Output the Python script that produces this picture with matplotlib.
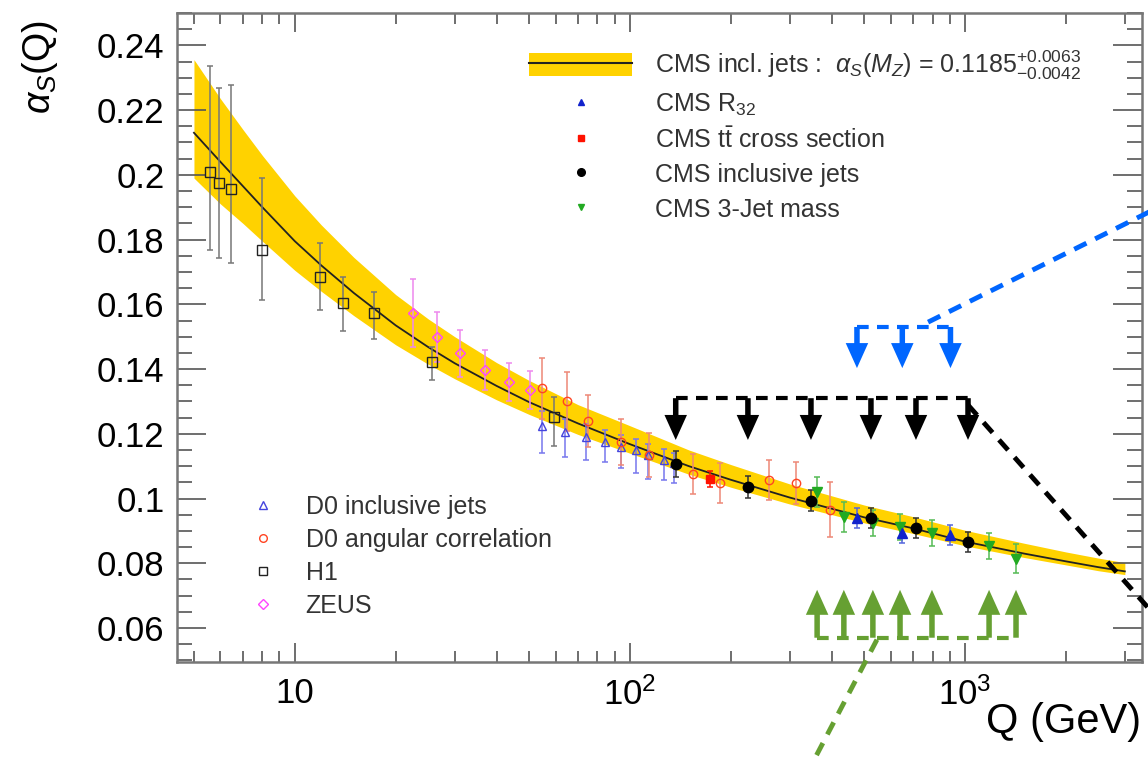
import numpy as np
import matplotlib
matplotlib.use('Agg')
import matplotlib.pyplot as plt
from matplotlib.patches import Patch
from matplotlib.lines import Line2D
from matplotlib.legend_handler import HandlerTuple
from matplotlib.ticker import LogLocator, NullFormatter, MultipleLocator

plt.rcParams['font.family'] = ['Liberation Sans', 'DejaVu Sans']
plt.rcParams['mathtext.fontset'] = 'custom'
plt.rcParams['mathtext.rm'] = 'Liberation Sans'
plt.rcParams['mathtext.it'] = 'Liberation Sans:italic'
plt.rcParams['mathtext.bf'] = 'Liberation Sans:bold'

# theory band
theory_q = [5, 6, 7, 8, 10, 12, 15, 20, 25, 30, 40, 50, 70, 100, 150, 200, 300, 500, 700, 1000, 1500, 2000, 2500, 3000]
theory_central = [0.2130, 0.2040, 0.1965, 0.1900, 0.1795, 0.1720, 0.1635, 0.1535, 0.1468, 0.1418, 0.1348, 0.1298,
                  0.1232, 0.1168, 0.1100, 0.1058, 0.1003, 0.0942, 0.0908, 0.0867, 0.0830, 0.0806, 0.0788, 0.0775]
band_hi = [0.2356, 0.2235, 0.2140, 0.2060, 0.1935, 0.1845, 0.1745, 0.1630, 0.1555, 0.1500, 0.1420, 0.1365,
           0.1290, 0.1225, 0.1150, 0.1105, 0.1045, 0.0980, 0.0944, 0.0902, 0.0862, 0.0835, 0.0816, 0.0802]
band_lo = [0.1990, 0.1910, 0.1850, 0.1795, 0.1705, 0.1640, 0.1565, 0.1475, 0.1415, 0.1370, 0.1305, 0.1260,
           0.1198, 0.1140, 0.1075, 0.1035, 0.0983, 0.0925, 0.0892, 0.0854, 0.0818, 0.0795, 0.0777, 0.0765]

# H1
h1_q = [5.57, 5.93, 6.44, 7.97, 11.9, 13.9, 17.2, 25.6, 59.3]
h1_a = [0.2008, 0.1974, 0.1956, 0.1767, 0.1684, 0.1604, 0.1573, 0.1422, 0.1252]
h1_up = [0.0329, 0.0295, 0.0321, 0.0223, 0.0105, 0.0080, 0.0065, 0.0046, 0.0062]
h1_dn = [0.0241, 0.0231, 0.0229, 0.0154, 0.0102, 0.0087, 0.0080, 0.0056, 0.0090]

# ZEUS
zeus_q = [22.5, 26.5, 31.1, 36.9, 43.5, 50.3]
zeus_a = [0.1573, 0.1499, 0.1449, 0.1397, 0.1360, 0.1335]
zeus_err = [0.0105, 0.0077, 0.0072, 0.0062, 0.0059, 0.0059]

# D0 inclusive jets
d0inc_q = [54.6, 64, 74, 84, 94, 104, 113, 126, 135]
d0inc_a = [0.1225, 0.1205, 0.1190, 0.1175, 0.1160, 0.1150, 0.1135, 0.1120, 0.1110]
d0inc_up = [0.0045, 0.0042, 0.0040, 0.0038, 0.0036, 0.0035, 0.0034, 0.0033, 0.0032]
d0inc_dn = [0.0084, 0.0077, 0.0070, 0.0062, 0.0066, 0.0070, 0.0075, 0.0063, 0.0062]

# D0 angular correlation
d0ang_q = [54.8, 64.9, 75, 94, 114, 154, 186, 260, 313, 395]
d0ang_a = [0.1340, 0.1300, 0.1240, 0.1175, 0.1135, 0.1075, 0.1048, 0.1057, 0.1048, 0.0965]
d0ang_err = [0.0095, 0.0090, 0.0080, 0.0070, 0.0068, 0.0062, 0.0062, 0.0062, 0.0065, 0.0085]

# CMS
cms_q = [137, 225, 347, 524, 714, 1021]
cms_a = [0.1107, 0.1036, 0.0993, 0.0940, 0.0909, 0.0866]
cms_err = [0.0040, 0.0035, 0.0033, 0.0030, 0.0030, 0.0032]

m3j_q = [362, 435, 531, 640, 797, 1180, 1420]
m3j_a = [0.1020, 0.0943, 0.0925, 0.0912, 0.0894, 0.0854, 0.0814]
m3j_err = [0.0045, 0.0045, 0.0040, 0.0040, 0.0040, 0.0040, 0.0045]

r32_q = [476, 650, 905]
r32_a = [0.0940, 0.0894, 0.0888]
r32_err = [0.0030, 0.0030, 0.0030]

tt_q = [173.2]
tt_a = [0.1060]
tt_err = [0.0025]

# annotation levels (alpha_s units)
blue_level, blue_tip = 0.153, 0.1403
black_level, black_tip = 0.131, 0.1181
green_base, green_tip = 0.057, 0.0718
blue_diag_q, blue_diag_a = [776, 3700], [0.1545, 0.1895]
black_diag_q, black_diag_a = [1021, 5040], [0.1289, 0.0481]
green_diag_q, green_diag_a = [546, 330], [0.0564, 0.0131]

gold = '#FFD200'
c_blue = '#0066FF'
c_green = '#66A032'

fig = plt.figure(figsize=(11.48, 7.59), dpi=100)
ax = fig.add_axes([177/1148, 1-662/759, 965/1148, 649/759])

ax.fill_between(theory_q, band_lo, band_hi, color=gold, lw=0, zorder=1)
ax.plot(theory_q, theory_central, color='#222222', lw=1.3, zorder=2)

eb = dict(capsize=2.5, elinewidth=1.1, capthick=1.1, zorder=3, ls='none')
ax.errorbar(zeus_q, zeus_a, yerr=zeus_err, fmt='D', ms=5, mfc='none', mec='#ff44ff', ecolor='#ee88ee', **eb)
ax.errorbar(d0inc_q, d0inc_a, yerr=[d0inc_dn, d0inc_up], fmt='^', ms=6, mfc='none', mec='#4444dd', ecolor='#7777ee', **eb)
ax.errorbar(d0ang_q, d0ang_a, yerr=d0ang_err, fmt='o', ms=6, mfc='none', mec='#ff4422', ecolor='#ee8877', **eb)
ax.errorbar(h1_q, h1_a, yerr=[h1_dn, h1_up], fmt='s', ms=7, mfc='none', mec='#222222', ecolor='#777777', **eb)
ax.errorbar(tt_q, tt_a, yerr=tt_err, fmt='s', ms=6, color='#ff1100', **eb)
ax.errorbar(m3j_q, m3j_a, yerr=m3j_err, fmt='v', ms=6.5, color='#22aa22', ecolor='#55bb55', **eb)
ax.errorbar(r32_q, r32_a, yerr=r32_err, fmt='^', ms=6.5, color='#1122cc', ecolor='#5566dd', **eb)
ax.errorbar(cms_q, cms_a, yerr=cms_err, fmt='o', ms=7.5, color='black', ecolor='#333333', **eb)

ax.set_xscale('log')
ax.set_xlim(4.45, 3375)
ax.set_ylim(0.0495, 0.25)
ax.set_xticks([10, 100, 1000])
ax.set_xticklabels(['10', '$10^{2}$', '$10^{3}$'])
ax.xaxis.set_minor_locator(LogLocator(base=10, subs=np.arange(2, 10)))
ax.xaxis.set_minor_formatter(NullFormatter())
yt = np.arange(0.06, 0.2401, 0.02)
ax.set_yticks(yt)
ax.set_yticklabels(['%g' % round(v, 2) for v in yt])
ax.yaxis.set_minor_locator(MultipleLocator(0.005))

tick_col = '#555555'
ax.tick_params(which='both', direction='in', top=True, right=True, color=tick_col, width=1.2)
ax.tick_params(axis='y', which='major', length=21, labelsize=25, pad=9)
ax.tick_params(axis='y', which='minor', length=11)
ax.tick_params(axis='x', which='major', length=14, labelsize=25, pad=11)
ax.tick_params(axis='x', which='minor', length=8)
for s in ax.spines.values():
    s.set_color('#777777')
    s.set_linewidth(1.8)

fig.text(40/1148, 1-20/759, r'$\alpha_{S}$(Q)', rotation=90, ha='center', va='top', fontsize=27)
fig.text(1141/1148, 1-722/759, 'Q (GeV)', ha='right', va='center', fontsize=30)

# arrows and dashed guides
ls_d = (0, (2.8, 2.0))
ax.plot([r32_q[0], r32_q[-1]], [blue_level]*2, color=c_blue, lw=3, ls=ls_d, zorder=5)
ax.plot(blue_diag_q, blue_diag_a, color=c_blue, lw=3.5, ls=ls_d, clip_on=False, zorder=5)
ax.plot([cms_q[0], cms_q[-1]], [black_level]*2, color='black', lw=3, ls=ls_d, zorder=5)
ax.plot(black_diag_q, black_diag_a, color='black', lw=3.5, ls=ls_d, clip_on=False, zorder=5)
ax.plot([m3j_q[0], m3j_q[-1]], [green_base]*2, color=c_green, lw=3, ls=ls_d, zorder=5)
ax.plot(green_diag_q, green_diag_a, color=c_green, lw=3.5, ls=ls_d, clip_on=False, zorder=5)

arr = 'simple,head_length=1.0,head_width=0.9,tail_width=0.22'
for q in r32_q:
    ax.annotate('', xy=(q, blue_tip), xytext=(q, blue_level),
                arrowprops=dict(arrowstyle=arr, color=c_blue, lw=0, mutation_scale=18, shrinkA=0, shrinkB=0), zorder=6)
for q in cms_q:
    ax.annotate('', xy=(q, black_tip), xytext=(q, black_level),
                arrowprops=dict(arrowstyle=arr, color='black', lw=0, mutation_scale=18, shrinkA=0, shrinkB=0), zorder=6)
for q in m3j_q:
    ax.annotate('', xy=(q, green_tip), xytext=(q, green_base),
                arrowprops=dict(arrowstyle=arr, color=c_green, lw=0, mutation_scale=18, shrinkA=0, shrinkB=0), zorder=6)

# legends
band_handle = (Patch(facecolor=gold, edgecolor='none'), Line2D([], [], color='#222222', lw=1.5))
h_top = [band_handle,
         Line2D([], [], marker='^', color='#1122cc', ls='none', ms=5),
         Line2D([], [], marker='s', color='#ff1100', ls='none', ms=4.5),
         Line2D([], [], marker='o', color='black', ls='none', ms=5.5),
         Line2D([], [], marker='v', color='#22aa22', ls='none', ms=5)]
l_top = [r'CMS incl. jets :  $\alpha_{S}(M_{Z})$ = 0.1185$^{+0.0063}_{-0.0042}$',
         'CMS R$_{32}$', r'CMS $\mathrm{t\bar{t}}$ cross section', 'CMS inclusive jets', 'CMS 3-Jet mass']
leg1 = ax.legend(h_top, l_top, loc='upper left', bbox_to_anchor=(0.3648, 0.945), frameon=False,
                 fontsize=18, handlelength=4.12, handleheight=1.0, handletextpad=0.9, labelspacing=0.38,
                 borderpad=0, borderaxespad=0, handler_map={tuple: HandlerTuple(ndivide=1, pad=0)})
for t in leg1.get_texts():
    t.set_color('#333333')
ax.add_artist(leg1)

h_bot = [Line2D([], [], marker='^', mfc='none', mec='#4444dd', ls='none', ms=6),
         Line2D([], [], marker='o', mfc='none', mec='#ff4422', ls='none', ms=5.5),
         Line2D([], [], marker='s', mfc='none', mec='#222222', ls='none', ms=6),
         Line2D([], [], marker='D', mfc='none', mec='#ff44ff', ls='none', ms=5)]
l_bot = ['D0 inclusive jets', 'D0 angular correlation', 'H1', 'ZEUS']
leg2 = ax.legend(h_bot, l_bot, loc='upper left', bbox_to_anchor=(0.0684, 0.257), frameon=False,
                 fontsize=18, handlelength=1.6, handletextpad=0.9, labelspacing=0.36,
                 borderpad=0, borderaxespad=0)
for t in leg2.get_texts():
    t.set_color('#333333')

fig.savefig('out.png', dpi=100)
